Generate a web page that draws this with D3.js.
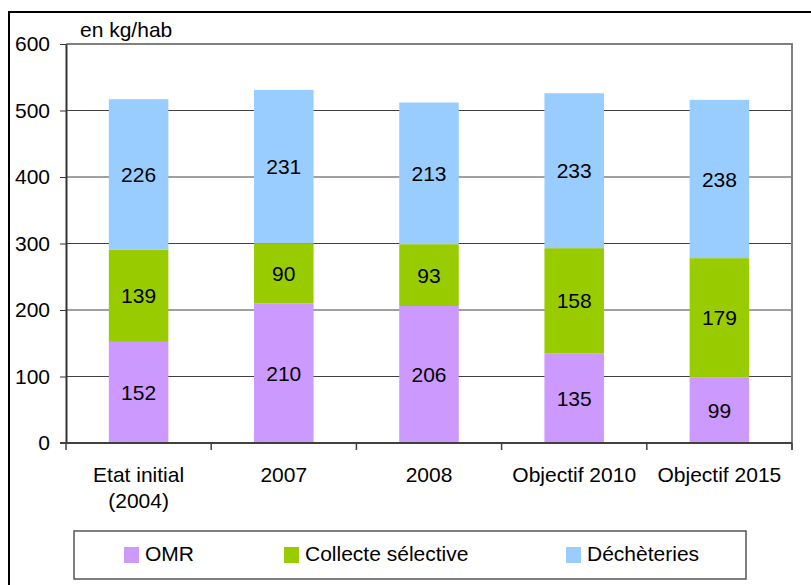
<!DOCTYPE html>
<html>
<head>
<meta charset="utf-8">
<script src="https://cdn.jsdelivr.net/npm/d3@7"></script>
<style>
  body { margin: 0; background: #fff; }
  svg { display: block; font-family: "Liberation Sans", Arial, sans-serif; }
</style>
</head>
<body>
<div id="chart"></div>
<script>
// données (kg/hab)
const categories = [["Etat initial", "(2004)"], ["2007"], ["2008"], ["Objectif 2010"], ["Objectif 2015"]];
const omr = [152, 210, 206, 135, 99];
const collecte = [139, 90, 93, 158, 179];
const decheteries = [226, 231, 213, 233, 238];
const seriesNames = ["OMR", "Collecte sélective", "Déchèteries"];
const seriesColors = ["#cc99ff", "#99cc00", "#99ccff"];
const yTicks = [0, 100, 200, 300, 400, 500, 600];

const width = 811, height = 585;
const margin = {left: 66, right: 19, top: 44, bottom: 142};
const fs = 21;

const svg = d3.select("#chart").append("svg")
    .attr("width", width)
    .attr("height", height);

// outer frame (cropped on right/bottom)
svg.append("path")
    .attr("d", "M9," + height + "V12H" + width)
    .attr("fill", "none")
    .attr("stroke", "#000")
    .attr("stroke-width", 2);

const rows = categories.map((c, i) => ({
    idx: i,
    "OMR": omr[i],
    "Collecte sélective": collecte[i],
    "Déchèteries": decheteries[i]
}));

const x = d3.scaleBand()
    .domain(d3.range(categories.length))
    .range([margin.left, width - margin.right])
    .paddingInner(0.59)
    .paddingOuter(0.295);

const y = d3.scaleLinear()
    .domain([0, 600])
    .range([height - margin.bottom, margin.top]);

const x0 = margin.left, x1 = width - margin.right;

// gridlines
svg.append("g").selectAll("line")
    .data(yTicks.filter(t => t > 0 && t < 600))
    .enter().append("line")
    .attr("x1", x0).attr("x2", x1)
    .attr("y1", d => y(d)).attr("y2", d => y(d))
    .attr("stroke", "#404040")
    .attr("stroke-width", 1);

// bars
const stack = d3.stack().keys(seriesNames);
const layers = stack(rows);

const layerG = svg.append("g").selectAll("g")
    .data(layers)
    .enter().append("g")
    .attr("fill", (d, i) => seriesColors[i]);

layerG.selectAll("rect")
    .data(d => d)
    .enter().append("rect")
    .attr("x", d => x(d.data.idx))
    .attr("width", x.bandwidth())
    .attr("y", d => y(d[1]))
    .attr("height", d => y(d[0]) - y(d[1]));

layerG.selectAll("text")
    .data(d => d)
    .enter().append("text")
    .attr("x", d => x(d.data.idx) + x.bandwidth() / 2)
    .attr("y", d => (y(d[0]) + y(d[1])) / 2)
    .attr("dy", "0.36em")
    .attr("text-anchor", "middle")
    .attr("font-size", fs)
    .attr("fill", "#000")
    .text(d => d[1] - d[0]);

// plot border top/right (gray)
svg.append("path")
    .attr("d", "M" + x0 + "," + y(600) + "H" + x1 + "V" + (y(0) + 7))
    .attr("fill", "none")
    .attr("stroke", "#808080")
    .attr("stroke-width", 2);

// y axis
const yAxis = svg.append("g")
    .attr("transform", "translate(" + x0 + ",0)")
    .call(d3.axisLeft(y).tickValues(yTicks).tickSize(6).tickPadding(10).tickSizeOuter(0));
yAxis.select(".domain").attr("stroke", "#333").attr("stroke-width", 2);
yAxis.selectAll(".tick line").attr("stroke", "#333");
yAxis.selectAll("text").attr("font-size", fs).attr("font-family", "Liberation Sans, Arial, sans-serif").attr("fill", "#000");

// x axis baseline + tick marks at band boundaries
const step = x.step();
const bounds = d3.range(categories.length + 1).map(i => x0 + i * (x1 - x0) / categories.length);
svg.append("line")
    .attr("x1", x0 - 6).attr("x2", x1)
    .attr("y1", y(0)).attr("y2", y(0))
    .attr("stroke", "#404040").attr("stroke-width", 2);
svg.append("g").selectAll("line")
    .data(bounds)
    .enter().append("line")
    .attr("x1", d => d).attr("x2", d => d)
    .attr("y1", y(0)).attr("y2", y(0) + 7)
    .attr("stroke", "#404040").attr("stroke-width", 1.5);

// category labels
const catG = svg.append("g").selectAll("text")
    .data(categories)
    .enter().append("text")
    .attr("text-anchor", "middle")
    .attr("font-size", fs)
    .attr("y", 482);
catG.selectAll("tspan")
    .data((d, i) => d.map(s => ({s: s, i: i})))
    .enter().append("tspan")
    .attr("x", d => x(d.i) + x.bandwidth() / 2)
    .attr("dy", (d, j) => j === 0 ? 0 : 26)
    .text(d => d.s);

// unit label
svg.append("text")
    .attr("x", 80).attr("y", 37)
    .attr("font-size", fs)
    .text("en kg/hab");

// legend
svg.append("rect")
    .attr("x", 74).attr("y", 531)
    .attr("width", 672).attr("height", 48)
    .attr("fill", "#fff")
    .attr("stroke", "#555")
    .attr("stroke-width", 1.5);

const legendX = [124, 284, 566];
const leg = svg.append("g").selectAll("g")
    .data(seriesNames)
    .enter().append("g")
    .attr("transform", (d, i) => "translate(" + legendX[i] + ",547)");
leg.append("rect")
    .attr("width", 15).attr("height", 16)
    .attr("fill", (d, i) => seriesColors[i]);
leg.append("text")
    .attr("x", 21).attr("y", 14)
    .attr("font-size", fs)
    .text(d => d);
</script>
</body>
</html>
